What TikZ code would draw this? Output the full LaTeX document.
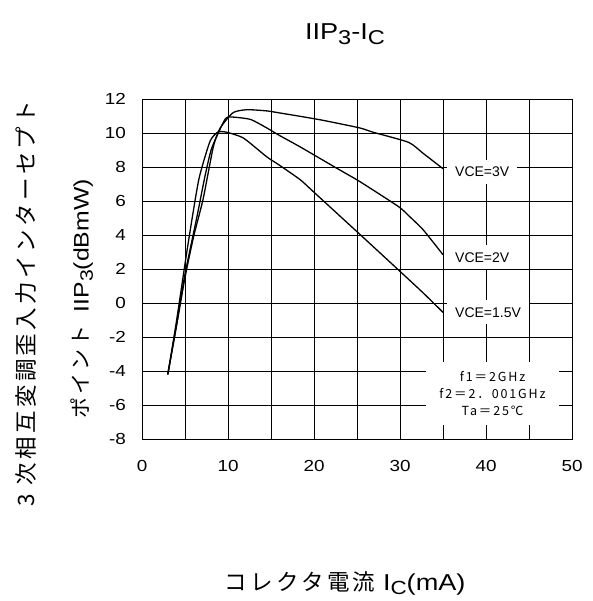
\documentclass[tikz,border=0pt]{standalone}
\usepackage{fontspec}
\setmainfont{Liberation Sans}
\newfontfamily\widesans{Liberation Sans}[FakeStretch=1.18]
\newfontfamily\jpfont{Noto Sans CJK JP}[LetterSpace=15]
\usetikzlibrary{positioning}
\newcommand{\lowsub}[2]{\raisebox{-0.2em}{\fontsize{#1}{#1}\selectfont #2}}

\begin{document}
\begin{tikzpicture}[x=1pt, y=1pt,
    gridline/.style={line width=0.6pt, black},
    frameline/.style={line width=0.9pt},
    curve/.style={line width=1.3pt, line join=round, smooth, tension=0.35},
    ticklbl/.style={inner sep=0pt, font=\widesans\fontsize{16}{16}\selectfont},
    vcelbl/.style={fill=white, inner xsep=8pt, inner ysep=7pt, font=\fontsize{14}{14}\selectfont}]
    \useasboundingbox (0,0) rectangle (592,601);

    \node[inner sep=0pt, font=\widesans\fontsize{23}{23}\selectfont] (title) at (345,567) {IIP\lowsub{20pt}{3}-I\lowsub{20pt}{C}};

    \node[rotate=90, inner sep=0pt, font=\jpfont\fontsize{22.5}{22.5}\selectfont] (ylabout) at (26,297.5) {3 次相互変調歪入力インターセプト};
    \node[rotate=90, inner sep=0pt, font=\jpfont\fontsize{21}{21}\selectfont] (ylabin) at (82,302) {ポイント\hspace{13pt}{\widesans\fontsize{21}{21}\selectfont IIP\lowsub{18pt}{3}(dBmW)}};
    \node[inner sep=0pt, font=\jpfont\fontsize{22.5}{22.5}\selectfont] (xlab) at (345,18) {コレクタ電流{\widesans\fontsize{23}{23}\selectfont\ I\lowsub{19pt}{C}(mA)}};

    \begin{scope}[shift={(142pt,298pt)}, x=8.6pt, y=17pt]
        \draw[gridline] (0,-8) grid[xstep=5, ystep=2] (50,12);
        \draw[frameline] (0,-8) rectangle (50,12);

        \foreach \x in {0,10,...,50}
            \node[ticklbl, yshift=-27pt] (xt\x) at (\x,-8) {\x};
        \foreach \y in {-8,-6,...,12}
            \node[ticklbl, anchor=east, xshift=-16pt] (yt\y) at (0,\y) {\y};

        \node[fill=white, inner sep=0pt, minimum width=133pt, minimum height=63pt, align=center, font=\jpfont\fontsize{12.5}{17}\selectfont] (cond) at (40.76,-5.3) {f1＝2GHz\\f2＝2．001GHz\\Ta＝25℃};

        % VCE = 3V
        \draw[curve] plot coordinates {(3,-4.2) (4,-1.4) (5,1.5) (6,3.9) (7.1,6.1) (8.3,9.2) (9.1,10.3) (10.6,11.2) (12.2,11.37) (14.5,11.3) (16,11.18) (18.4,10.98) (21.1,10.74) (25.3,10.3) (26.9,10.04) (31,9.45) (32.7,8.8) (35,7.9)};
        % VCE = 2V
        \draw[curve] plot coordinates {(3,-4.2) (4,-1.3) (5,1.7) (6.4,5.1) (7.3,7.4) (8.1,9.1) (9.65,10.8) (10.4,10.94) (12.6,10.8) (14.5,10.3) (16,9.85) (18.4,9.18) (22.6,7.94) (25.3,7.15) (29.8,5.68) (31,5.14) (32.7,4.3) (35,2.84)};
        % VCE = 1.5V
        \draw[curve] plot coordinates {(3,-4.2) (4,-1.1) (5.3,3.3) (6.6,7.25) (7.9,9.5) (8.8,10.05) (9.8,10.05) (11.8,9.7) (14.5,8.6) (16,8.1) (18.4,7.25) (19.9,6.56) (25.2,4.1) (30,1.86) (32.7,0.59) (35,-0.55)};

        \coordinate (end3) at (35,7.9);
        \coordinate (end2) at (35,2.84);
        \coordinate (end15) at (35,-0.55);
        \node[vcelbl, right=4pt of end3, yshift=-3pt] (v3) {VCE=3V};
        \node[vcelbl, right=4pt of end2, yshift=-2.5pt] (v2) {VCE=2V};
        \node[vcelbl, right=4pt of end15] (v15) {VCE=1.5V};
    \end{scope}
\end{tikzpicture}
\end{document}
